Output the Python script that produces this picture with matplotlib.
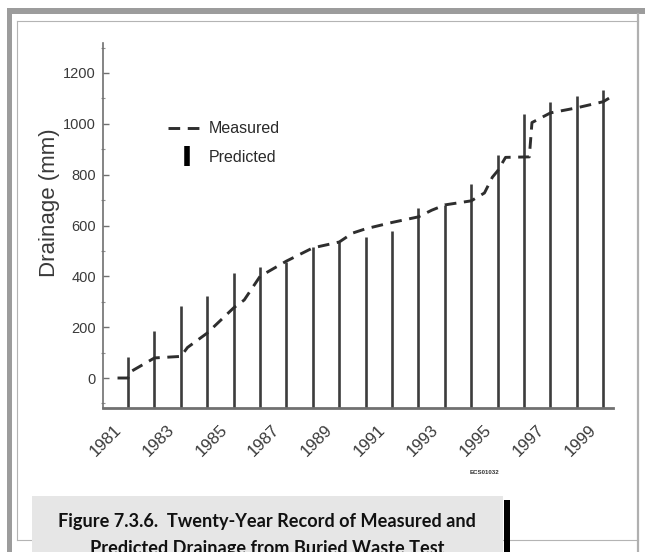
import matplotlib
matplotlib.use("Agg")
import matplotlib.pyplot as plt
from matplotlib.lines import Line2D
from matplotlib.patches import Rectangle
from matplotlib.ticker import MultipleLocator
from matplotlib.transforms import ScaledTranslation

W, H = 645, 552

# Predicted annual cumulative drainage (mm)
years = list(range(1981, 2000))
predicted = [83, 185, 285, 323, 415, 437, 457, 514, 535, 555,
             580, 668, 680, 762, 878, 1040, 1085, 1108, 1134]

# Measured cumulative drainage (mm), read as a continuous record
measured_years = [1980.6, 1981.0, 1981.1, 1982.0, 1983.0, 1983.25, 1984.0,
                  1985.0, 1985.4, 1986.0, 1987.0, 1988.0, 1989.0, 1989.5,
                  1990.0, 1991.0, 1992.0, 1992.5, 1993.0, 1994.0, 1994.5,
                  1994.8, 1995.0, 1995.3, 1996.2, 1996.3, 1997.0, 1998.0,
                  1999.0, 1999.3]
measured_mm = [0, 0, 25, 79, 85, 120, 177,
               276, 307, 400, 460, 512, 535, 570,
               587, 612, 634, 660, 681, 697, 728,
               790, 815, 868, 870, 1005, 1043, 1063,
               1087, 1106]

tick_years = list(range(1981, 2000, 2))
y_ticks = list(range(0, 1201, 200))

plt.rcParams['font.family'] = ['Liberation Sans', 'DejaVu Sans']

fig = plt.figure(figsize=(W / 100, H / 100), dpi=100)


def fx(px):
    return px / W


def fy(py):
    return 1 - py / H


def box(x0, y0, x1, y1, color, z=0):
    fig.add_artist(Rectangle((fx(x0), fy(y1)), fx(x1) - fx(x0), fy(y0) - fy(y1),
                             transform=fig.transFigure, facecolor=color,
                             edgecolor='none', zorder=z))


def rule(x0, y0, x1, y1, color, lw):
    fig.add_artist(Line2D([fx(x0), fx(x1)], [fy(y0), fy(y1)],
                          transform=fig.transFigure, color=color, lw=lw, zorder=1))


# page border
box(7, 8, 645, 14, '#9c9c9c')
box(7, 8, 12, 552, '#9c9c9c')
rule(16.5, 20.5, 638, 20.5, '#b4b4b4', 0.8)
rule(16.5, 20.5, 16.5, 540, '#b4b4b4', 0.8)
rule(16.5, 540, 638, 540, '#b4b4b4', 0.8)
rule(638, 14, 638, 552, '#b0b0b0', 1.6)

ax = fig.add_axes([fx(103), fy(408), (613 - 103) / W, (408 - 43) / H])
ax.set_xlim(1980.05, 1999.37)
ax.set_ylim(-118, 1318)

y_bottom = ax.get_ylim()[0]
ax.vlines(years, y_bottom, predicted, color='#3c3c3c', lw=1.9, zorder=2)
ax.plot(measured_years, measured_mm, color='#2e2e2e', lw=2.1,
        dashes=(4, 2.6), zorder=3)

for side in ('top', 'right'):
    ax.spines[side].set_visible(False)
ax.spines['left'].set_color('#707070')
ax.spines['left'].set_linewidth(1.2)
ax.spines['bottom'].set_color('#707070')
ax.spines['bottom'].set_linewidth(2.0)

ax.set_yticks(y_ticks)
ax.yaxis.set_minor_locator(MultipleLocator(100))
ax.tick_params(axis='y', which='major', direction='in', length=4, width=1,
               color='#707070', labelsize=10.5, labelcolor='#3a3a3a', pad=5)
ax.tick_params(axis='y', which='minor', direction='inout', length=3, width=0.8,
               color='#909090')
ax.set_xticks(tick_years)
ax.set_xticklabels([str(y) for y in tick_years], rotation=45, ha='right',
                   va='center', rotation_mode='anchor')
ax.tick_params(axis='x', length=0, labelsize=12.2, labelcolor='#3a3a3a', pad=14)
shift_left = ScaledTranslation(-0.09, 0, fig.dpi_scale_trans)
for lbl in ax.get_xticklabels():
    lbl.set_transform(lbl.get_transform() + shift_left)
ax.set_ylabel('Drainage (mm)', fontsize=16, color='#3a3a3a')
ax.yaxis.set_label_coords(-0.085, 0.562)

handles = [Line2D([], [], color='#2e2e2e', lw=2.1, dashes=(4, 2.6)),
           Line2D([], [], color='black', ls='none', marker='|',
                  markersize=14, markeredgewidth=4)]
ax.legend(handles, ['Measured', 'Predicted'], loc='upper left',
          bbox_to_anchor=(0.1, 0.825), frameon=False, fontsize=11.5,
          handlelength=2.3, handletextpad=0.25, labelspacing=0.85,
          labelcolor='#2a2a2a')

fig.text(fx(499), fy(473), 'ECS01032', fontsize=4.4, fontweight='bold',
         color='#333333', ha='right', va='center')

# caption panel
box(32, 496, 503, 552, '#e6e6e6', z=2)
box(504, 500, 510, 552, '#000000', z=2)
fig.text(fx(267), fy(527), 'Figure 7.3.6.  Twenty-Year Record of Measured and',
         family=['Lato', 'DejaVu Sans'], fontweight='bold', fontsize=13.1,
         color='#111111', ha='center', va='baseline', zorder=3)
fig.text(fx(267), fy(554), 'Predicted Drainage from Buried Waste Test',
         family=['Lato', 'DejaVu Sans'], fontweight='bold', fontsize=13.1,
         color='#111111', ha='center', va='baseline', zorder=3)

fig.savefig('out.png', dpi=100)
